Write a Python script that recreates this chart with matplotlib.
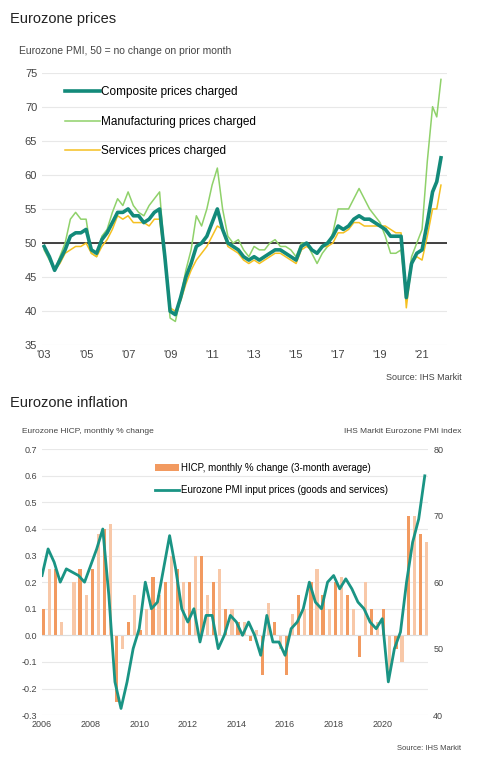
import matplotlib
matplotlib.use("Agg")
import matplotlib.pyplot as plt
import numpy as np

years_top = [2003 + i*0.25 for i in range(72)] + [2021.0, 2021.25, 2021.5, 2021.7, 2021.9]
composite = [49.5,48,46,47.5, 49,51,51.5,51.5, 52,49,48.5,50.5, 51.5,53,54.5,54.5, 55,54,54,53,
             53.5,54.5,55,48, 40,39.5,42,45, 47,49.5,50,51, 53,55,52,50, 49.5,49,48,47.5,
             48,47.5,48,48.5, 49,49,48.5,48, 47.5,49.5,50,49, 48.5,49.5,50,51, 52.5,52,52.5,53.5,
             54,53.5,53.5,53, 52.5,52,51,51, 51,42,47,48.5, 49,53,57.5,59,62.5]
manufacturing = [49,47.5,46,48, 50,53.5,54.5,53.5, 53.5,48.5,48,51, 52,54.5,56.5,55.5, 57.5,55.5,54.5,54,
                 55.5,56.5,57.5,48, 39,38.5,42,46, 49,54,52.5,55, 58.5,61,55,51, 50,50.5,49,48,
                 49.5,49,49,50, 50.5,49.5,49.5,49, 48,50,50,48.5, 47,48.5,49.5,51.5, 55,55,55,56.5,
                 58,56.5,55,54, 53,51,48.5,48.5, 49,42,48,50, 52,62,70,68.5,74]
services = [49.5,48,46,47, 48.5,49,49.5,49.5, 50,48.5,48,49.5, 50.5,52,54,53.5, 54,53,53,53,
            52.5,53.5,53.5,47.5, 40.5,40,41.5,44, 46,47.5,48.5,49.5, 51,52.5,52,49.5, 49,48.5,47.5,47,
            47.5,47,47.5,48, 48.5,48.5,48,47.5, 47,49,49.5,49, 48.5,49.5,49.5,50, 51.5,51.5,52,53,
            53,52.5,52.5,52.5, 52.5,52.5,52,51.5, 51.5,40.5,47,48, 47.5,51,55,55,58.5]
top_ticks = list(range(2003, 2022, 2))
top_labels = ["'%02d" % (y % 100) for y in top_ticks]

years_bot = [2006 + i*0.25 for i in range(64)]
hicp = [0.1,0.25,0.25,0.05, 0.0,0.2,0.25,0.15, 0.25,0.38,0.4,0.42, -0.25,-0.05,0.05,0.15,
        0.02,0.1,0.22,0.15, 0.2,0.3,0.25,0.2, 0.2,0.3,0.3,0.15, 0.2,0.25,0.1,0.1,
        0.05,0.05,-0.02,0.02, -0.15,0.12,0.05,-0.05, -0.15,0.08,0.15,0.1, 0.2,0.25,0.15,0.1,
        0.2,0.22,0.15,0.1, -0.08,0.2,0.1,0.05, 0.1,-0.15,-0.05,-0.1, 0.45,0.45,0.38,0.35]
pmi_input = [61,65,63,60, 62,61.5,61,60, 62.5,65,68,58, 45,41,45,50,
             53,60,56,57, 62,67,62,56, 54,56,51,55, 55,50,52,55,
             54,52,54,52, 49,55,51,51, 49,53,54,56, 60,57,56,60,
             61,59,60.5,59, 57,56,54,53, 54.5,45,50,52.5, 60,66,69.5,76]
bot_ticks = list(range(2006, 2021, 2))

plt.rcParams['font.family'] = ['Liberation Sans', 'DejaVu Sans']
fig = plt.figure(figsize=(4.83, 7.64), dpi=100)
grey = '#444444'

fig.text(0.02, 0.984, "Eurozone prices", fontsize=10.5, va='top', color='#222222')
fig.text(0.04, 0.94, "Eurozone PMI, 50 = no change on prior month", fontsize=7.5, va='top', color=grey)
ax = fig.add_axes([0.087, 0.548, 0.839, 0.357])
ax.plot(years_top, manufacturing, color='#8fd16a', lw=1.1, label='Manufacturing prices charged', zorder=2)
ax.plot(years_top, services, color='#f5c020', lw=1.1, label='Services prices charged', zorder=3)
ax.plot(years_top, composite, color='#138a7a', lw=2.6, label='Composite prices charged', zorder=4)
ax.axhline(50, color='#222222', lw=1.2, zorder=1)
ax.set_ylim(35, 75)
ax.set_xlim(2002.9, 2022.2)
ax.set_yticks(range(35, 80, 5))
ax.set_xticks(top_ticks)
ax.set_xticklabels(top_labels)
ax.grid(axis='y', color='#e8e8e8', lw=0.8)
ax.set_axisbelow(True)
for s in ax.spines.values():
    s.set_visible(False)
ax.tick_params(length=0, labelsize=8, colors=grey)
h, l = ax.get_legend_handles_labels()
ax.legend([h[2], h[0], h[1]], [l[2], l[0], l[1]], loc='upper left', frameon=False, fontsize=8.5,
          handlelength=3, handletextpad=0.1, labelspacing=1.5, bbox_to_anchor=(0.03, 0.99))
fig.text(0.955, 0.503, "Source: IHS Markit", fontsize=6.5, ha='right', color=grey)

fig.text(0.02, 0.482, "Eurozone inflation", fontsize=10.5, va='top', color='#222222')
fig.text(0.045, 0.44, "Eurozone HICP, monthly % change", fontsize=6, va='top', color=grey)
fig.text(0.955, 0.44, "IHS Markit Eurozone PMI index", fontsize=6, va='top', ha='right', color=grey)
bx = fig.add_axes([0.087, 0.064, 0.8, 0.348])
cols = ['#f29a60' if i % 2 == 0 else '#f8c8a8' for i in range(len(hicp))]
bx.bar(years_bot, hicp, width=0.13, color=cols, align='edge', label='HICP, monthly % change (3-month average)')
bx.set_ylim(-0.3, 0.7)
bx.set_xlim(2006, 2021.9)
bx.set_yticks(np.arange(-0.3, 0.71, 0.1))
bx.set_yticklabels(['%.1f' % v for v in np.arange(-0.3, 0.71, 0.1)])
bx.set_xticks(bot_ticks)
bx.grid(axis='y', color='#e8e8e8', lw=0.8)
bx.set_axisbelow(True)
bx2 = bx.twinx()
bx2.plot(years_bot, pmi_input, color='#1a9484', lw=2, label='Eurozone PMI input prices (goods and services)')
bx2.set_ylim(40, 80)
bx2.set_yticks([40, 50, 60, 70, 80])
for a in (bx, bx2):
    for s in a.spines.values():
        s.set_visible(False)
    a.tick_params(length=0, labelsize=6.5, colors=grey)
bx.axhline(0, color='#dddddd', lw=0.8)
h1, l1 = bx.get_legend_handles_labels()
h2, l2 = bx2.get_legend_handles_labels()
bx2.legend(h1 + h2, l1 + l2, loc='upper left', bbox_to_anchor=(0.27, 0.98), frameon=False,
           fontsize=7, handlelength=2.5, handletextpad=0.2, labelspacing=1.2)
fig.text(0.955, 0.018, "Source: IHS Markit", fontsize=5.5, ha='right', color=grey)

fig.savefig("out.png", dpi=100)
